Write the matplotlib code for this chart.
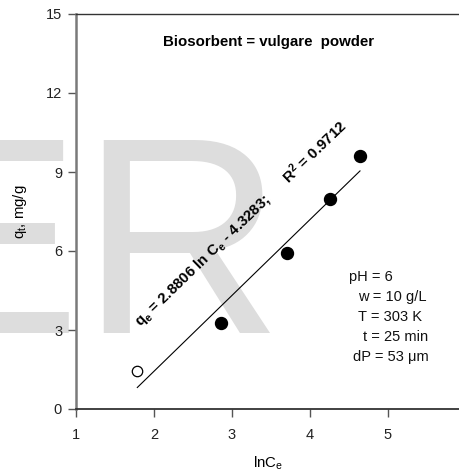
import matplotlib
matplotlib.use("Agg")
import matplotlib.pyplot as plt
import numpy as np

plt.rcParams["font.family"] = ["Liberation Sans", "DejaVu Sans"]
plt.rcParams["mathtext.fontset"] = "custom"
plt.rcParams["mathtext.rm"] = "Liberation Sans"
plt.rcParams["mathtext.it"] = "Liberation Sans"
plt.rcParams["mathtext.bf"] = "Liberation Sans:bold"

# Temkin isotherm data: ln Ce vs qe
ln_ce = [1.786, 2.859, 3.709, 4.256, 4.641]
q_e = [1.44, 3.28, 5.91, 7.96, 9.62]
excluded = [True, False, False, False, False]

slope = 2.8806
intercept = -4.3283
r_squared = 0.9712

x_ticks = [1, 2, 3, 4, 5]
y_ticks = [0, 3, 6, 9, 12, 15]

conditions = ["pH = 6", "w = 10 g/L", "T = 303 K", "t = 25 min", "dP = 53 \u03bcm"]

W, H, DPI = 460, 470, 100
fig = plt.figure(figsize=(W / DPI, H / DPI), dpi=DPI)
fig.patch.set_facecolor("white")

# axes frame in pixel terms
px_left, px_bottom, px_top = 76, 409, 14
x_per_unit = 78.0
ax = fig.add_axes([px_left / W, (H - px_bottom) / H, (W - px_left) / W, (px_bottom - px_top) / H])
ax.patch.set_alpha(0)
ax.set_xlim(1, 1 + (W - px_left) / x_per_unit)
ax.set_ylim(0, 15)

# faint background lettering
fig.text(-106 / W, (H - 333) / H, "ER", fontsize=201.6, color="#dddddd",
         ha="left", va="baseline", zorder=-5)

# fitted line over the data range
xf = np.array([min(ln_ce), max(ln_ce)])
ax.plot(xf, slope * xf + intercept, color="black", lw=0.8, zorder=2)

for x, y, ex in zip(ln_ce, q_e, excluded):
    if ex:
        ax.plot(x, y, "o", ms=7.5, mfc="white", mec="black", mew=0.9, zorder=3)
    else:
        ax.plot(x, y, "o", ms=8.6, mfc="black", mec="black", zorder=3)

ax.set_xticks(x_ticks)
ax.set_yticks(y_ticks)
ax.tick_params(direction="out", length=6, width=1, color="#555555",
               labelsize=10.5, labelcolor="#222222", pad=4)
ax.tick_params(axis="x", pad=8)

ax.spines["right"].set_visible(False)
ax.spines["left"].set_color("#7a7a7a")
ax.spines["left"].set_linewidth(1.8)
ax.spines["bottom"].set_color("#333333")
ax.spines["bottom"].set_linewidth(1.3)
ax.spines["top"].set_color("#333333")
ax.spines["top"].set_linewidth(1.0)

ax.set_ylabel(r"$\mathregular{q_t}$, mg/g", fontsize=10.8)
ax.yaxis.set_label_coords((29 - px_left) / (W - px_left), 0.5)
ax.set_xlabel(r"ln$\mathregular{C_e}$", fontsize=10.8)
ax.xaxis.set_label_coords(0.5, (px_bottom - 455) / (px_bottom - px_top))


def to_data(px, py):
    return 1 + (px - px_left) / x_per_unit, (px_bottom - py) * 15 / (px_bottom - px_top)


bx, by = to_data(269, 42)
ax.text(bx, by, "Biosorbent = vulgare  powder", fontsize=10.8, fontweight="bold",
        ha="center", va="center")

ex_, ey_ = to_data(141, 328)
eq = (r"$\mathbf{q_e}$ = %.4f ln $\mathbf{C_e}$ - %.4f;      $\mathbf{R^2}$ = %.4f"
      % (slope, -intercept, r_squared))
ax.text(ex_, ey_, eq, fontsize=10.8, fontweight="bold", rotation=44,
        rotation_mode="anchor", ha="left", va="baseline")

cond_x = [349, 358, 358, 363, 353]
cond_y = [281, 301, 321, 341, 361]
for txt, cx, cy in zip(conditions, cond_x, cond_y):
    tx, ty = to_data(cx, cy)
    ax.text(tx, ty, txt, fontsize=10.5, ha="left", va="baseline", color="#111111")

fig.savefig("out.png", dpi=DPI)
